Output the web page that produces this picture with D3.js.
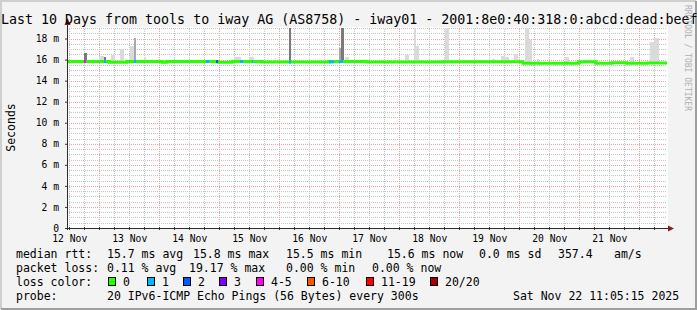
<!DOCTYPE html>
<html>
<head>
<meta charset="utf-8">
<script src="https://cdn.jsdelivr.net/npm/d3@7/dist/d3.min.js"></script>
<style>
  body { margin: 0; background: #f3f3f3; }
  text { font-family: "DejaVu Sans Mono", monospace; }
</style>
</head>
<body>
<svg id="chart" width="697" height="310"></svg>
<script>
"use strict";

// 10 day window ending Sat Nov 22 11:05:15 2025
const startTime = Date.UTC(2025, 10, 12, 11, 5, 15);
const endTime = Date.UTC(2025, 10, 22, 11, 5, 15);

const yTicks = [0, 2, 4, 6, 8, 10, 12, 14, 16, 18];
const dayLabels = ["12 Nov", "13 Nov", "14 Nov", "15 Nov", "16 Nov",
                   "17 Nov", "18 Nov", "19 Nov", "20 Nov", "21 Nov"];

// median rtt (ms) as steps: [hours since start, value]
const medianSteps = [
  [0, 15.82], [17, 15.74], [24, 15.82], [38, 15.74], [40, 15.82],
  [60.4, 15.74], [66, 15.82], [78, 15.78], [105, 15.82], [120, 15.78],
  [150, 15.8], [182.4, 15.64], [204.8, 15.8], [211.6, 15.66], [218, 15.7],
  [224, 15.64], [232, 15.68], [240, 15.68]
];

// packet loss periods: [start h, end h, lost pings of 20]
const lossEvents = [
  [6.8, 7.6, 4], [14.8, 15.6, 1], [26.8, 27.6, 1], [55.6, 56.8, 1],
  [59.6, 60.4, 2], [69.2, 70.4, 1], [74, 74.4, 1], [88.8, 89.6, 1],
  [104.8, 106.8, 1], [108.8, 110.4, 1]
];

// smoke (rtt spread above the median): [start h, end h, top ms, shade]
const smoke = [
  [6.8, 8.0, 16.66, "dark"], [12.8, 14.8, 16.3, "light"], [14.8, 15.6, 16.2, "dark"],
  [17.6, 19.2, 16.47, "light"], [21.2, 22.8, 17.04, "light"], [25.2, 26.8, 17.33, "light"],
  [26.8, 27.6, 18.09, "mid"], [30.8, 31.6, 16.28, "light"], [67.2, 69.6, 16.28, "light"],
  [73.2, 74.8, 16.2, "light"], [88.8, 89.6, 22, "dark"], [108.8, 110.4, 17.07, "mid"],
  [109.6, 110.8, 22, "dark"], [111.2, 112.8, 16.2, "light"], [135.2, 136.8, 16.4, "light"],
  [138.8, 139.6, 22, "light"], [139.6, 140.8, 17.33, "light"], [151.2, 152.8, 22, "light"],
  [170.0, 171.2, 16.05, "light"], [173.6, 175.2, 16.37, "light"], [175.2, 176.8, 16.2, "light"],
  [178.8, 180.4, 16.56, "light"], [183.2, 184.8, 22, "light"], [184.8, 186.0, 17.86, "light"],
  [188.0, 188.8, 16.1, "light"], [199.2, 200.8, 16.2, "light"], [225.2, 226.8, 16.2, "light"],
  [233.2, 234.8, 17.7, "light"], [234.8, 236.8, 18.09, "light"]
];

const lossLabels = ["0", "1", "2", "3", "4-5", "6-10", "11-19", "20/20"];
const lossColors = ["#26ff00", "#00b8ff", "#0059ff", "#7e00ff", "#ff00ff", "#ff5500", "#ff0000", "#a10000"];
const lossUpper = [0, 1, 2, 3, 5, 10, 19, 20];

const rttStats = ["15.7 ms avg", "15.8 ms max", "15.5 ms min", "15.6 ms now", "0.0 ms sd", "357.4", "am/s"];
const lossStats = ["0.11 % avg", "19.17 % max", "0.00 % min", "0.00 % now"];
const probeText = "20 IPv6-ICMP Echo Pings (56 Bytes) every 300s";
const stamp = "Sat Nov 22 11:05:15 2025";
const title = "Last 10 Days from tools to iway AG (AS8758) - iway01 - 2001:8e0:40:318:0:abcd:dead:beef";

const shades = { light: "#dadada", mid: "#a8a8a8", dark: "#7a7a7a" };

const svg = d3.select("#chart");
const pLeft = 67, pRight = 667, pTop = 28, pBottom = 228;

const hours = h => new Date(startTime + h * 36e5);
const x = d3.scaleUtc().domain([new Date(startTime), new Date(endTime)]).range([pLeft, pRight]);
const y = d3.scaleLinear().domain([0, 19]).range([pBottom, pTop]);

function medianAt(h) {
  let v = medianSteps[0][1];
  for (const s of medianSteps) if (s[0] <= h) v = s[1];
  return v;
}
function lossColor(n) {
  return lossColors[lossUpper.findIndex(u => n <= u)];
}

// background + frame
svg.append("rect").attr("width", 697).attr("height", 310).attr("fill", "#f3f3f3");
svg.append("path").attr("d", "M1,309V1H696").attr("fill", "none").attr("stroke", "#cfcfcf").attr("stroke-width", 2);
svg.append("path").attr("d", "M1,309H696V1").attr("fill", "none").attr("stroke", "#9e9e9e").attr("stroke-width", 2);

// canvas
svg.append("rect").attr("x", pLeft).attr("y", pTop - 1).attr("width", pRight - pLeft + 1).attr("height", pBottom - pTop + 1).attr("fill", "#fff");

// grid
const minorY = d3.range(0.5, 19.01, 0.5).filter(v => v % 2 !== 0);
const minorX = d3.utcHour.every(6).range(new Date(startTime), new Date(endTime)).filter(d => d.getUTCHours() !== 0);
const majorX = d3.utcDay.range(new Date(startTime), new Date(endTime));

const grid = svg.append("g").attr("shape-rendering", "crispEdges");
grid.append("g").attr("transform", `translate(${pLeft},0)`)
  .call(d3.axisLeft(y).tickValues(minorY).tickSize(-(pRight - pLeft)).tickFormat(""))
  .call(g => g.select(".domain").remove())
  .selectAll("line").attr("stroke", "#c4c4c4").attr("stroke-dasharray", "1,1");
grid.append("g").attr("transform", `translate(0,${pBottom})`)
  .call(d3.axisBottom(x).tickValues(minorX).tickSize(-(pBottom - pTop)).tickFormat(""))
  .call(g => g.select(".domain").remove())
  .selectAll("line").attr("stroke", "#c4c4c4").attr("stroke-dasharray", "1,1");
grid.append("g").attr("transform", `translate(${pLeft},0)`)
  .call(d3.axisLeft(y).tickValues(yTicks.slice(1)).tickSize(-(pRight - pLeft)).tickFormat(""))
  .call(g => g.select(".domain").remove())
  .selectAll("line").attr("stroke", "#f0a0a0").attr("stroke-dasharray", "1,1");
grid.append("g").attr("transform", `translate(0,${pBottom})`)
  .call(d3.axisBottom(x).tickValues(majorX).tickSize(-(pBottom - pTop)).tickFormat(""))
  .call(g => g.select(".domain").remove())
  .selectAll("line").attr("stroke", "#f0a0a0").attr("stroke-dasharray", "1,1");

// smoke
svg.append("g").attr("shape-rendering", "crispEdges")
  .selectAll("rect").data(smoke).enter().append("rect")
  .attr("x", d => x(hours(d[0])))
  .attr("width", d => x(hours(d[1])) - x(hours(d[0])))
  .attr("y", d => y(Math.min(d[2], 19)))
  .attr("height", d => y(medianAt(d[0])) - y(Math.min(d[2], 19)))
  .attr("fill", d => shades[d[3]]);

// median line, loss coloured
const line = d3.line().curve(d3.curveStepAfter).x(d => x(hours(d[0]))).y(d => y(d[1]));
svg.append("path").datum(medianSteps).attr("d", line)
  .attr("fill", "none").attr("stroke", lossColors[0]).attr("stroke-width", 3);
svg.append("g").selectAll("line").data(lossEvents).enter().append("line")
  .attr("x1", d => x(hours(d[0]))).attr("x2", d => x(hours(d[1])))
  .attr("y1", d => y(medianAt(d[0]))).attr("y2", d => y(medianAt(d[0])))
  .attr("stroke", d => lossColor(d[2])).attr("stroke-width", 3);

// axes
const yAxis = svg.append("g").attr("transform", `translate(${pLeft},0)`)
  .call(d3.axisLeft(y).tickValues(yTicks).tickSize(2).tickPadding(6).tickFormat(d => d ? d + " m" : "0"));
yAxis.select(".domain").remove();
yAxis.selectAll("text").attr("font-family", "DejaVu Sans Mono").attr("font-size", 9.7).attr("fill", "#000");
yAxis.selectAll("line").attr("stroke", "#333");

const noon = dayLabels.map((d, i) => new Date(Date.UTC(2025, 10, 12 + i, 12)));
const xAxis = svg.append("g").attr("transform", `translate(0,${pBottom})`)
  .call(d3.axisBottom(x).tickValues(noon).tickSize(0).tickPadding(7.5).tickFormat((d, i) => dayLabels[i]));
xAxis.select(".domain").remove();
xAxis.selectAll("text").attr("font-family", "DejaVu Sans Mono").attr("font-size", 9.7).attr("fill", "#000");
svg.append("g").selectAll("line").data(minorX.concat(majorX)).enter().append("line")
  .attr("x1", d => Math.round(x(d)) + 0.5).attr("x2", d => Math.round(x(d)) + 0.5)
  .attr("y1", pBottom - 1).attr("y2", pBottom + 2).attr("stroke", "#333");

svg.append("line").attr("x1", pLeft + 0.5).attr("x2", pLeft + 0.5).attr("y1", pBottom + 2).attr("y2", 22)
  .attr("stroke", "#2c2c2c");
svg.append("line").attr("x1", pLeft - 2).attr("x2", pRight + 3).attr("y1", pBottom + 0.5).attr("y2", pBottom + 0.5)
  .attr("stroke", "#2c2c2c");
svg.append("path").attr("d", `M${pLeft - 2.5},25L${pLeft + 0.5},18L${pLeft + 3.5},25Z`).attr("fill", "#7f1f1f");
svg.append("path").attr("d", `M${pRight + 1},${pBottom - 2.5}L${pRight + 7},${pBottom + 0.5}L${pRight + 1},${pBottom + 3.5}Z`).attr("fill", "#7f1f1f");

// titles
svg.append("text").attr("x", 1).attr("y", 23.5).attr("font-size", 13.3).text(title);
svg.append("text").attr("transform", "translate(14.5,127.5) rotate(-90)")
  .attr("text-anchor", "middle").attr("font-family", "DejaVu Sans").attr("font-size", 11.5).text("Seconds");
svg.append("text").attr("transform", "translate(685,5) rotate(90)")
  .attr("font-size", 8).attr("fill", "#b0b0b0").text("RRDTOOL / TOBI OETIKER");

// legend
const legend = svg.append("g").attr("font-size", 11.5).attr("fill", "#000");
const rttX = [107, 193, 286, 387, 479, 558, 614];
const lossX = [107, 189, 286, 372];
legend.append("text").attr("x", 16).attr("y", 258).text("median rtt:");
legend.selectAll(".rtt").data(rttStats).enter().append("text")
  .attr("x", (d, i) => rttX[i]).attr("y", 258).text(d => d);
legend.append("text").attr("x", 16).attr("y", 272).text("packet loss:");
legend.selectAll(".loss").data(lossStats).enter().append("text")
  .attr("x", (d, i) => lossX[i]).attr("y", 272).text(d => d);
legend.append("text").attr("x", 16).attr("y", 286).text("loss color:");
const boxX = [108, 147, 183, 219, 256, 307, 366, 430];
const keys = legend.selectAll(".key").data(lossLabels).enter().append("g")
  .attr("transform", (d, i) => `translate(${boxX[i]},0)`);
keys.append("rect").attr("x", 0.5).attr("y", 277.5).attr("width", 7).attr("height", 8)
  .attr("fill", (d, i) => lossColors[i]).attr("stroke", "#000");
keys.append("text").attr("x", 15).attr("y", 286).text(d => d);
legend.append("text").attr("x", 16).attr("y", 300).text("probe:");
legend.append("text").attr("x", 107).attr("y", 300).text(probeText);
legend.append("text").attr("x", 513).attr("y", 300).text(stamp);
</script>
</body>
</html>
